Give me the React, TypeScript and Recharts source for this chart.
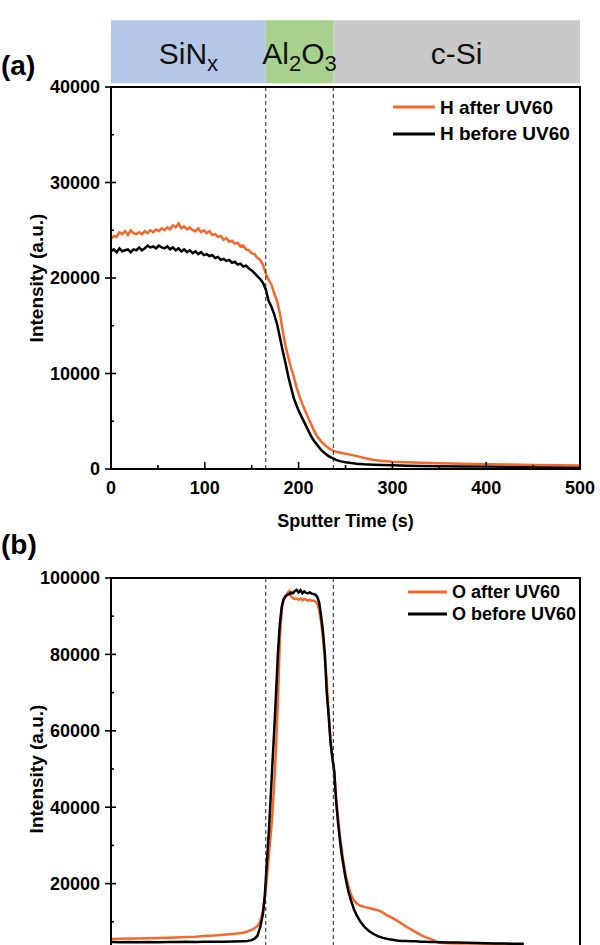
import React from 'react';
import { LineChart, Line, XAxis, YAxis, ReferenceLine, ReferenceArea, Legend } from 'recharts';

const FONT = '"Liberation Sans", Arial, Helvetica, sans-serif';
const ORANGE = '#F4692B';
const BLACK = '#000000';

// Layer stack (sputter time boundaries, s)
const LAYER_EDGES = [0, 165, 237, 500];
const LAYER_LABELS = [
  [{ text: 'SiN' }, { text: 'x', sub: true }],
  [{ text: 'Al' }, { text: '2', sub: true }, { text: 'O' }, { text: '3', sub: true }],
  [{ text: 'c-Si' }],
];
const LAYER_COLORS = ['#B4C7E7', '#A9D18E', '#C9C9C9'];
// vertical extent of the layer strip above the top panel (intensity units)
const STRIP_LOW = 40400;
const STRIP_HIGH = 47000;

// (a) Hydrogen depth profile
const TIME_A = [
  0, 3, 6, 9, 12, 15, 18, 21, 24, 27, 30, 33, 36, 39, 42, 45, 48, 51, 54, 57,
  60, 63, 66, 69, 72, 75, 78, 81, 84, 87, 90, 93, 96, 99, 102, 105, 108, 111, 114, 117,
  120, 123, 126, 129, 132, 135, 138, 141, 144, 147, 150, 153, 156, 159, 162, 165,
  168, 171, 174, 177, 180, 183, 186, 189, 192, 195, 198, 201, 204, 207, 210, 213, 216,
  220, 224, 228, 232, 236, 240, 245, 250, 256, 262, 270, 280, 290, 300, 315, 330, 350,
  375, 400, 425, 450, 475, 500,
];
const H_AFTER = [
  24100, 24400, 24300, 24800, 24600, 24900, 24500, 25000, 24700, 24600,
  24800, 24600, 24900, 24700, 25000, 24800, 25100, 24900, 25200, 25000,
  25300, 25100, 25500, 25300, 25700, 25200, 25400, 25100, 25300, 25000,
  24900, 25200, 24800, 25000, 24700, 24900, 24500, 24600, 24300, 24400,
  24000, 24200, 23800, 23900, 23600, 23700, 23300, 23400, 23000, 22900,
  22600, 22500, 22100, 21900, 21400, 20500,
  19800, 19300, 18400, 17600, 16300, 14500, 12900, 11700, 10600, 9600,
  8500, 7600, 6800, 6100, 5400, 4800, 4100, 3400, 2900, 2500,
  2200, 1950, 1800, 1700, 1600, 1480, 1350, 1150, 950, 850,
  750, 700, 650, 600, 550, 500, 470, 420, 400, 370,
];
const H_BEFORE = [
  22800, 23000, 22700, 23100, 22800, 22900, 23000, 22700, 23000, 22900,
  23200, 22900, 23100, 23400, 23200, 23300, 23100, 23400, 23200, 23100,
  23300, 23000, 23200, 22900, 23100, 22800, 23000, 22700, 22900, 22600,
  22800, 22500, 22700, 22400, 22500, 22300, 22400, 22100, 22200, 21900,
  22000, 21800, 21900, 21600, 21700, 21400, 21500, 21200, 21300, 21000,
  20800, 20500, 20200, 19900, 19500, 18800,
  17600, 17000, 16200, 15200, 13800, 12400, 11100, 9700, 8500, 7400,
  6600, 5900, 5300, 4700, 4100, 3500, 3000, 2500, 2000, 1650,
  1350, 1150, 950, 800, 700, 620, 560, 500, 450, 420,
  380, 350, 320, 290, 260, 250, 230, 210, 200, 190,
];

// (b) Oxygen depth profile
const TIME_B = [
  0, 10, 20, 30, 40, 50, 60, 70, 80, 90, 100, 110, 120, 130, 140,
  145, 150, 153, 156, 159, 162,
  164, 166, 168, 170, 172, 174, 176, 178, 180, 182,
  184, 186, 188, 190, 192, 194, 196, 198, 200, 202,
  204, 206, 208, 210, 212, 214, 216, 218, 220, 222,
  224, 226, 228, 230, 232, 234, 236, 238, 240, 242,
  244, 246, 248, 250,
  253, 256, 259, 262, 266, 270,
  275, 280, 285, 290, 295, 300, 305, 310, 315, 320, 325, 330, 335, 340, 345, 350,
  360, 370, 380, 390, 400, 410, 420, 430, 440,
];
const O_AFTER = [
  5500, 5550, 5600, 5600, 5700, 5750, 5800, 5900, 6000, 6100, 6300, 6400, 6600, 6800, 7100,
  7400, 7900, 8300, 8800, 10000, 13000,
  16500, 21000, 26500, 32000, 38000, 46000, 56000, 68000, 84000, 91500,
  94300, 95000, 96000, 96500, 95200, 94700, 94500, 94600, 94300, 94600,
  94200, 94500, 94300, 94100, 94300, 94000, 94100, 93800, 93200, 91500,
  88500, 84000, 79000, 73000, 65000, 58000, 53000, 49000, 42500, 37500,
  32500, 29000, 25500, 22500,
  19500, 17000, 15600, 14800, 14200, 13900,
  13600, 13300, 13000, 12400, 11600, 11000, 10300, 9500, 8700, 8000, 7300, 6600, 6000, 5600, 5000, 4500,
  4400, 4350, 4300, 4300, 4250, 4200, 4200, 4150, 4150,
];
const O_BEFORE = [
  4700, 4650, 4700, 4650, 4700, 4650, 4700, 4700, 4750, 4700, 4750, 4800, 4800, 4850, 4900,
  4950, 5200, 5600, 6300, 8500, 12000,
  17000, 25000, 32500, 41500, 51000, 60000, 70000, 80500, 88000, 92500,
  94500, 95200, 95600, 95800, 96200, 96000, 96600, 96900, 96200, 96800,
  96000, 96500, 96100, 96000, 96200, 95900, 95800, 95600, 95000, 93500,
  90000, 86000, 80000, 70000, 64000, 57000, 53000, 49500, 41500, 36000,
  31500, 27500, 24500, 21500,
  18000, 15500, 13300, 11700, 10000, 8700,
  7600, 6800, 6200, 5800, 5500, 5300, 5100, 5000, 4950, 4900, 4900, 4800, 4750, 4700, 4700, 4650,
  4600, 4550, 4500, 4450, 4400, 4350, 4300, 4250, 4250,
];

const X_TICKS = [0, 50, 100, 150, 200, 250, 300, 350, 400, 450, 500];
const Y_TICKS_A = [0, 5000, 10000, 15000, 20000, 25000, 30000, 35000, 40000];
const Y_TICKS_B = [0, 10000, 20000, 30000, 40000, 50000, 60000, 70000, 80000, 90000, 100000];

const LEGEND_A = [
  { name: 'H after UV60', color: ORANGE },
  { name: 'H before UV60', color: BLACK },
];
const LEGEND_B = [
  { name: 'O after UV60', color: ORANGE },
  { name: 'O before UV60', color: BLACK },
];

const dataA = TIME_A.map((t, i) => ({ t, after: H_AFTER[i], before: H_BEFORE[i] }));
const dataB = TIME_B.map((t, i) => ({ t, after: O_AFTER[i], before: O_BEFORE[i] }));

const W = 600;
const H = 545;
const MARGIN = { top: 87, right: 20, bottom: 16, left: 0 };

const makeXTick = (withLabels: boolean) => (props: any) => {
  const { x, y, payload } = props;
  const major = payload.value % 100 === 0;
  return (
    <g>
      <line x1={x} x2={x} y1={y} y2={y - (major ? 7 : 4)} stroke="#000" strokeWidth={1.6} />
      {major && withLabels && (
        <text x={x} y={y + 25} textAnchor="middle" fontFamily={FONT} fontWeight="bold" fontSize={18} fill="#000">
          {payload.value}
        </text>
      )}
    </g>
  );
};

const makeYTick = (step: number, withZero: boolean) => (props: any) => {
  const { x, y, payload } = props;
  const major = payload.value % step === 0;
  const showLabel = major && (withZero || payload.value !== 0);
  return (
    <g>
      <line x1={x - (major ? 6 : 0)} x2={x + (major ? 5 : 3)} y1={y} y2={y} stroke="#000" strokeWidth={1.6} />
      {showLabel && (
        <text x={x - 11} y={y} dy="0.36em" textAnchor="end" fontFamily={FONT} fontWeight="bold" fontSize={18} fill="#000">
          {payload.value}
        </text>
      )}
    </g>
  );
};

const yTitle = (props: any) => {
  const vb = props.viewBox;
  const cx = 36;
  const cy = vb.y + vb.height / 2;
  return (
    <text x={cx} y={cy} transform={`rotate(-90 ${cx} ${cy})`} textAnchor="middle" dominantBaseline="central"
      fontFamily={FONT} fontWeight="bold" fontSize={19} fill="#000">
      Intensity (a.u.)
    </text>
  );
};

const xTitle = (props: any) => {
  const vb = props.viewBox;
  return (
    <text x={vb.x + vb.width / 2} y={vb.y + 58} textAnchor="middle" fontFamily={FONT} fontWeight="bold" fontSize={18} fill="#000">
      Sputter Time (s)
    </text>
  );
};

const stripLabel = (parts: { text: string; sub?: boolean }[]) => (props: any) => {
  const vb = props.viewBox;
  let shifted = false;
  return (
    <text x={vb.x + vb.width / 2} y={vb.y + vb.height / 2 + 12} textAnchor="middle" fontFamily={FONT} fontSize={30} fill="#111">
      {parts.map((p, i) => {
        let dy = 0;
        if (p.sub && !shifted) { dy = 7; shifted = true; }
        else if (!p.sub && shifted) { dy = -7; shifted = false; }
        return (
          <tspan key={i} dy={dy} fontSize={p.sub ? 22 : 30}>{p.text}</tspan>
        );
      })}
    </text>
  );
};

function LegendBox({ entries, fontSize, rowHeight, lineWidth }: any) {
  return (
    <div style={{ fontFamily: FONT, fontWeight: 'bold', fontSize, color: '#000' }}>
      {entries.map((e: any) => (
        <div key={e.name} style={{ display: 'flex', alignItems: 'center', height: rowHeight }}>
          <svg width={lineWidth} height={4} style={{ marginRight: 5, display: 'block' }}>
            <line x1={0} x2={lineWidth} y1={2} y2={2} stroke={e.color} strokeWidth={3} />
          </svg>
          <span style={{ whiteSpace: 'nowrap', lineHeight: 1 }}>{e.name}</span>
        </div>
      ))}
    </div>
  );
}

function Panel({ data, yMax, yTicks, yStep, legend, legendPos, legendFont, legendRow, legendLine, showStrip, blackOnTop, showBottom }: any) {
  const orangeLine = (
    <Line key="after" type="linear" dataKey="after" stroke={ORANGE} strokeWidth={2.5} dot={false} isAnimationActive={false} />
  );
  const blackLine = (
    <Line key="before" type="linear" dataKey="before" stroke={BLACK} strokeWidth={2.5} dot={false} isAnimationActive={false} />
  );
  return (
    <LineChart width={W} height={H} data={data} margin={MARGIN}>
      <XAxis
        dataKey="t" type="number" domain={[0, 500]} ticks={X_TICKS} interval={0}
        tickSize={0} tickMargin={0} tickLine={false} tick={makeXTick(showBottom)} height={60}
        axisLine={{ stroke: '#000', strokeWidth: 2 }} label={showBottom ? { content: xTitle } : undefined}
      />
      <YAxis
        type="number" domain={[0, yMax]} ticks={yTicks} interval={0} width={111}
        tickSize={0} tickMargin={0} tickLine={false} tick={makeYTick(yStep, showBottom)}
        axisLine={{ stroke: '#000', strokeWidth: 2 }} label={{ content: yTitle }}
      />
      {showStrip && LAYER_COLORS.map((c, i) => (
        <ReferenceArea
          key={`fill-${i}`} x1={LAYER_EDGES[i]} x2={LAYER_EDGES[i + 1]} y1={STRIP_LOW} y2={STRIP_HIGH}
          ifOverflow="visible" fill={c} fillOpacity={1} stroke="none"
        />
      ))}
      {showStrip && LAYER_LABELS.map((parts, i) => (
        <ReferenceArea
          key={`label-${i}`} x1={LAYER_EDGES[i]} x2={LAYER_EDGES[i + 1]} y1={STRIP_LOW} y2={STRIP_HIGH}
          ifOverflow="visible" fill="none" stroke="none"
          label={{ content: stripLabel(parts) }}
        />
      ))}
      {blackOnTop ? [orangeLine, blackLine] : [blackLine, orangeLine]}
      {LAYER_EDGES.slice(1, 3).map((e) => (
        <ReferenceLine key={e} x={e} stroke="#222" strokeWidth={1} strokeDasharray="4 3" />
      ))}
      <ReferenceArea x1={0} x2={500} y1={0} y2={yMax} ifOverflow="visible" fill="none" stroke="#000" strokeWidth={2} />
      <Legend
        layout="vertical" align="center" verticalAlign="middle"
        wrapperStyle={{ left: legendPos.left, top: legendPos.top, width: 'auto', height: 'auto' }}
        content={() => <LegendBox entries={legend} fontSize={legendFont} rowHeight={legendRow} lineWidth={legendLine} />}
      />
    </LineChart>
  );
}

function PanelTag({ text, top }: { text: string; top: number }) {
  return (
    <svg width={50} height={40} style={{ position: 'absolute', left: 0, top }}>
      <text x={1} y={29} fontFamily={FONT} fontWeight="bold" fontSize={28} fill="#000">{text}</text>
    </svg>
  );
}

export default function App() {
  return (
    <div style={{ position: 'absolute', left: 0, top: 0, width: 600, height: 945, overflow: 'hidden', background: '#fff' }}>
      <div style={{ position: 'absolute', left: 0, top: 0 }}>
        <Panel
          data={dataA} yMax={40000} yTicks={Y_TICKS_A} yStep={10000}
          legend={LEGEND_A} legendPos={{ left: 393, top: 94 }} legendFont={19} legendRow={26.5} legendLine={42}
          showStrip blackOnTop={false} showBottom
        />
      </div>
      <div style={{ position: 'absolute', left: 0, top: 491 }}>
        <Panel
          data={dataB} yMax={100000} yTicks={Y_TICKS_B} yStep={20000}
          legend={LEGEND_B} legendPos={{ left: 408, top: 90 }} legendFont={18} legendRow={22} legendLine={39}
          showStrip={false} blackOnTop showBottom={false}
        />
      </div>
      <PanelTag text="(a)" top={46} />
      <PanelTag text="(b)" top={525} />
    </div>
  );
}
